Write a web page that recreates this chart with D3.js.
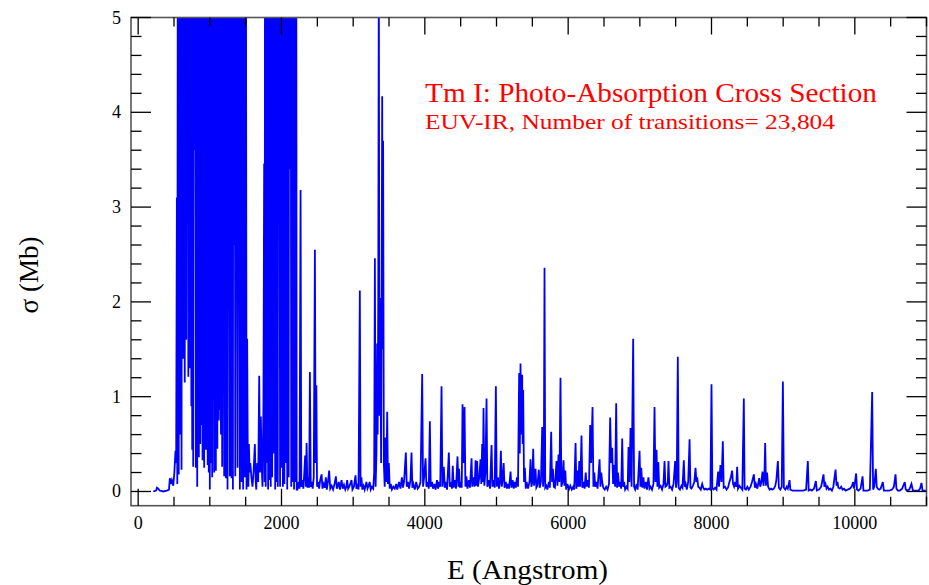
<!DOCTYPE html>
<html>
<head>
<meta charset="utf-8">
<script src="https://cdn.jsdelivr.net/npm/d3@7/dist/d3.min.js"></script>
<style>
  body { margin: 0; background: #fff; }
  text { font-family: "Liberation Serif", "Times New Roman", serif; }
</style>
</head>
<body>
<svg id="chart" width="929" height="585"></svg>
<script>
// spectrum vertices: [E (Angstrom), sigma (Mb)]
var euvOnset = [
  [210,0.0],[250,0.01],[262,0.04],[280,0.03],[300,0.01],[350,0.0],[400,0.01],[430,0.02],
  [442,0.14],[455,0.08],[470,0.12],[490,0.06],[505,0.2],[521,0.43],[530,0.3],[540,3.1]
];
var euvBandA = [
  [546,0.08],[556,9],[566,0.18],[575,9],[585,0.6],[595,9],[605,0.23],[615,9],[625,1.4],
  [638,9],[650,1.15],[660,9],[670,1.6],[676,5.8],[684,3.2],[692,5.8],[700,1.21],[710,9],
  [720,1.3],[730,9],[742,0.9],[748,9],[754,0.44],[761,9],[768,0.26],[774,6],[785,3.6],
  [796,6],[805,0.25],[814,9],[824,0.05],[835,9],[847,0.36],[857,9],[866,0.5],[876,9],
  [886,0.7],[892,9],[898,0.33],[910,9],[921,0.25],[933,9],[945,0.44],[950,6.2],[958,4.1],
  [966,6.2],[970,0.28],[978,9],[985,0.2],[993,9],[1000,0.02],[1010,9],[1020,0.3],[1027,9],
  [1033,0.15],[1047,9],[1061,0.2],[1072,9],[1084,0.22],[1094,9],[1105,0.45],[1115,9],
  [1125,0.75],[1133,9],[1140,0.86],[1148,9],[1155,0.6],[1163,9],[1172,0.26],[1186,9],
  [1200,0.16],[1212,9],[1224,0.14],[1236,9],[1247,0.02],[1263,9],[1279,0.16],[1291,9],
  [1303,0.14],[1312,9],[1322,0.02],[1327,6],[1337,2.6],[1347,6],[1355,0.16],[1371,9],
  [1387,0.25],[1400,9],[1419,0.02],[1432,9],[1445,0.1],[1455,9],[1465,0.02],[1477,9],
  [1490,0.15],[1500,9],[1512,0.02]
];
var euvGap = [
  [1521,1.61],[1530,0.3],[1538,0.05],[1545,0.5],[1555,0.2],[1565,0.3],[1580,0.15],[1595,0.05],
  [1610,0.2],[1628,0.5],[1640,0.1],[1648,0.02],[1662,0.3],[1675,0.1],[1689,1.22],[1700,0.2],
  [1712,0.79],[1722,0.3],[1735,0.05],[1748,0.93],[1758,3.46]
];
var euvBandB = [
  [1765,0.1],[1772,9],[1780,0.05],[1788,9],[1797,0.3],[1805,9],[1813,0.02],[1822,9],
  [1830,0.12],[1840,9],[1850,0.05],[1860,9],[1870,0.15],[1878,9],[1886,0.4],[1891,6],
  [1898,3.7],[1905,6],[1912,0.02],[1922,9],[1932,0.1],[1940,9],[1948,0.05],[1953,6],
  [1962,4.2],[1971,6],[1980,0.05],[1990,9],[2000,0.25],[2010,9],[2020,0.05],[2030,9],
  [2040,0.08],[2050,9],[2057,0.3],[2061,6],[2067,4.6],[2073,6],[2080,0.02],[2092,9],
  [2100,0.15],[2105,6],[2117,3.4],[2129,6],[2136,0.05],[2145,9],[2155,0.1],[2165,9],
  [2175,0.02],[2185,9],[2195,0.1],[2203,9],[2212,0.02]
];
var uvLines = [
  [2222,0.02],[2240,0.1],[2252,0.03],[2266,3.18],[2276,0.05],[2290,0.12],[2305,0.03],[2318,0.2],
  [2330,0.38],[2340,0.05],[2350,0.51],[2362,0.04],[2376,0.15],[2386,0.04],[2396,1.26],[2408,0.05],
  [2420,0.1],[2435,0.03],[2450,0.15],[2466,2.55],[2476,0.3],[2486,1.12],[2496,0.05],[2510,0.1],
  [2525,0.03],[2540,0.12],[2559,0.18],[2572,0.03],[2590,0.08],[2605,0.04],[2619,0.15],[2632,0.02],
  [2648,0.1],[2665,0.22],[2680,0.03],[2700,0.06],[2720,0.02],[2740,0.08],[2759,0.16],[2772,0.03],
  [2786,0.06],[2800,0.1],[2815,0.02],[2838,0.12],[2855,0.03],[2872,0.07],[2890,0.02],[2905,0.05],
  [2916,0.12],[2930,0.03],[2950,0.06],[2977,0.12],[2990,0.02],[3010,0.05],[3033,0.17],[3045,0.03],
  [3060,0.06],[3075,0.02],[3093,2.12],[3103,0.05],[3115,0.15],[3128,0.02],[3145,0.06],[3160,0.02],
  [3185,0.1],[3200,0.03],[3215,0.06],[3230,0.1],[3245,0.02],[3262,0.05],[3280,0.03],[3293,0.2],
  [3303,2.46],[3313,0.05],[3325,0.4],[3335,1.56],[3342,0.6],[3350,2.04],[3358,5.6],[3366,0.8],
  [3377,2.04],[3390,0.3],[3405,4.17],[3412,1.5],[3418,3.7],[3428,0.3],[3440,0.05],[3452,0.57],
  [3462,0.1],[3475,0.84],[3485,0.08],[3498,0.3],[3510,0.03],[3525,0.08],[3540,0.02],[3560,0.05],
  [3580,0.03],[3600,0.08],[3615,0.02],[3640,0.1],[3660,0.03],[3680,0.15],[3695,0.04],[3710,0.1],
  [3735,0.41],[3748,0.05],[3765,0.1],[3780,0.03],[3800,0.12],[3814,0.41],[3826,0.04],[3840,0.08],
  [3860,0.02],[3880,0.1],[3900,0.03],[3920,0.05],[3940,0.1],[3963,1.24],[3975,0.05],[3990,0.15],
  [4010,0.35],[4022,0.05],[4040,0.1],[4055,0.03],[4070,0.74],[4082,0.05],[4100,0.1],[4115,0.03],
  [4135,0.08],[4150,0.02],[4170,0.12],[4185,0.03],[4200,0.1],[4215,0.05],[4233,1.11],[4245,0.05],
  [4265,0.26],[4278,0.04],[4295,0.1],[4310,0.02],[4335,0.41],[4348,0.05],[4365,0.1],[4378,0.03],
  [4390,0.27],[4402,0.04],[4420,0.12],[4435,0.03],[4456,0.37],[4468,0.05],[4478,0.24],[4490,0.04],
  [4505,0.1],[4515,0.04],[4526,0.92],[4540,0.3],[4554,0.89],[4566,0.05],[4580,0.16],[4595,0.03],
  [4615,0.12],[4630,0.04],[4652,0.35],[4662,0.05],[4680,0.15],[4695,0.05],[4708,0.33],[4718,0.06],
  [4730,0.32],[4742,0.05],[4760,0.15],[4777,0.34],[4788,0.08],[4800,0.5],[4810,0.1],[4819,0.88],
  [4830,0.06],[4845,0.2],[4861,0.98],[4872,0.05],[4890,0.12],[4910,0.03],[4931,0.49],[4943,0.05],
  [4960,0.12],[4975,0.04],[4991,1.11],[5003,0.05],[5020,0.15],[5035,0.03],[5048,0.1],[5061,0.43],
  [5073,0.05],[5085,0.12],[5100,0.3],[5112,0.04],[5130,0.1],[5145,0.03],[5160,0.08],[5175,0.03],
  [5196,0.21],[5208,0.04],[5225,0.12],[5240,0.03],[5255,0.1],[5270,0.04],[5285,0.15],[5300,0.05],
  [5316,1.25],[5325,0.4],[5335,1.35],[5346,0.6],[5358,1.23],[5365,0.5],[5372,1.07],[5384,0.1],
  [5396,0.25],[5408,0.03]
];
var visLines = [
  [5420,0.1],[5440,0.03],[5460,0.1],[5475,0.34],[5487,0.05],[5500,0.1],[5512,0.45],[5524,0.06],
  [5545,0.24],[5556,0.04],[5570,0.06],[5591,0.23],[5602,0.04],[5620,0.1],[5638,0.68],[5650,0.05],
  [5660,0.2],[5670,2.36],[5680,0.04],[5695,0.06],[5710,0.02],[5730,0.1],[5745,0.04],[5763,0.63],
  [5775,0.1],[5787,0.24],[5800,0.05],[5815,0.04],[5837,0.32],[5850,0.06],[5865,0.39],[5878,0.1],
  [5893,1.2],[5905,0.05],[5920,0.1],[5935,0.33],[5947,0.06],[5960,0.22],[5972,0.02],[5990,0.08],
  [6010,0.02],[6030,0.06],[6050,0.02],[6070,0.05],[6085,0.02],[6103,0.51],[6115,0.03],[6130,0.22],
  [6142,0.05],[6155,0.32],[6168,0.05],[6186,0.59],[6198,0.04],[6215,0.1],[6230,0.03],[6245,0.2],
  [6258,0.05],[6275,0.12],[6290,0.04],[6307,0.7],[6320,0.3],[6340,0.89],[6352,0.05],[6365,0.2],
  [6378,0.05],[6395,0.1],[6410,0.03],[6438,0.34],[6450,0.05],[6462,0.2],[6475,0.1],[6490,0.04],
  [6510,0.02],[6530,0.05],[6550,0.02],[6570,0.08],[6586,0.78],[6600,0.3],[6614,0.46],[6627,0.08],
  [6640,0.28],[6655,0.05],[6670,0.93],[6682,0.04],[6695,0.2],[6710,0.05],[6725,0.1],[6740,0.03],
  [6754,0.56],[6766,0.05],[6780,0.1],[6795,0.02],[6815,0.05],[6830,0.03],[6842,0.47],[6855,0.1],
  [6870,0.67],[6885,0.05],[6907,1.61],[6920,0.05],[6935,0.02],[6955,0.08],[6970,0.02],[6996,0.43],
  [7008,0.05],[7020,0.25],[7035,0.04],[7050,0.15],[7065,0.03],[7085,0.1],[7100,0.02],[7120,0.15],
  [7135,0.03],[7150,0.05],[7170,0.02],[7190,0.08],[7205,0.89],[7218,0.1],[7233,0.44],[7245,0.05],
  [7258,0.31],[7270,0.04],[7290,0.06],[7310,0.02],[7330,0.08],[7345,0.32],[7357,0.05],[7375,0.06],
  [7390,0.1],[7400,0.32],[7412,0.04],[7430,0.05],[7450,0.02],[7470,0.08],[7493,0.32],[7505,0.04],
  [7515,0.1],[7530,1.42],[7542,0.04],[7560,0.02],[7580,0.06],[7595,0.04],[7614,0.33],[7626,0.05],
  [7640,0.08],[7655,0.02],[7675,0.1],[7694,0.55],[7706,0.04],[7720,0.03],[7740,0.06],[7760,0.1],
  [7777,0.25],[7790,0.1],[7800,0.15],[7815,0.05],[7830,0.04],[7850,0.02],[7870,0.08],[7885,0.04],
  [7900,0.02],[7920,0.03],[7940,0.02],[7965,0.03],[7985,0.02]
];
var irLines = [
  [8000,1.13],[8012,0.03],[8030,0.02],[8050,0.04],[8070,0.02],[8093,0.21],[8105,0.05],[8125,0.28],
  [8140,0.1],[8158,0.53],[8170,0.04],[8190,0.05],[8210,0.02],[8230,0.04],[8250,0.1],[8270,0.15],
  [8288,0.22],[8300,0.08],[8315,0.05],[8330,0.1],[8345,0.05],[8358,0.26],[8370,0.03],[8390,0.06],
  [8410,0.04],[8430,0.02],[8451,0.98],[8462,0.03],[8480,0.02],[8500,0.05],[8520,0.02],[8545,0.05],
  [8565,0.1],[8591,0.18],[8605,0.04],[8620,0.08],[8640,0.03],[8665,0.14],[8680,0.05],[8695,0.1],
  [8712,0.21],[8725,0.06],[8738,0.15],[8749,0.51],[8760,0.06],[8775,0.2],[8790,0.05],[8810,0.02],
  [8830,0.03],[8850,0.02],[8870,0.03],[8890,0.06],[8905,0.12],[8926,0.32],[8940,0.04],[8960,0.02],
  [8980,0.05],[8996,1.16],[9010,0.04],[9030,0.02],[9050,0.05],[9065,0.03],[9089,0.12],[9100,0.02],
  [9130,0.01],[9160,0.01],[9200,0.01],[9240,0.01],[9280,0.01],[9320,0.02],[9344,0.32],[9356,0.01],
  [9380,0.02],[9400,0.01],[9430,0.03],[9456,0.11],[9470,0.01],[9500,0.02],[9530,0.05],[9563,0.18],
  [9575,0.05],[9590,0.08],[9605,0.03],[9620,0.05],[9640,0.02],[9660,0.03],[9680,0.01],[9700,0.05],
  [9731,0.23],[9745,0.06],[9758,0.1],[9770,0.04],[9790,0.03],[9810,0.05],[9830,0.02],[9850,0.03],
  [9870,0.01],[9900,0.02],[9930,0.03],[9955,0.05],[9977,0.1],[9990,0.03],[10018,0.19],[10030,0.02],
  [10050,0.01],[10080,0.03],[10108,0.16],[10120,0.01],[10150,0.01],[10180,0.01],[10210,0.02],
  [10242,1.05],[10255,0.02],[10270,0.05],[10293,0.24],[10305,0.05],[10320,0.03],[10340,0.02],
  [10360,0.03],[10391,0.1],[10405,0.01],[10440,0.01],[10480,0.01],[10520,0.02],[10545,0.05],
  [10568,0.18],[10580,0.03],[10600,0.01],[10630,0.01],[10660,0.03],[10697,0.1],[10710,0.02],
  [10730,0.01],[10760,0.02],[10790,0.08],[10810,0.01],[10850,0.01],[10890,0.01],[10910,0.03],
  [10930,0.09],[10945,0.01],[10980,0.01],[11000,0.01]
];

var xMajorTicks = [0, 2000, 4000, 6000, 8000, 10000];
var xMinorTicks = d3.range(0, 11001, 500);
var yMajorTicks = [0, 1, 2, 3, 4, 5];
var yMinorTicks = d3.range(0, 5.01, 0.2);

var title = "Tm I: Photo-Absorption Cross Section";
var subtitle = "EUV-IR, Number of transitions= 23,804";
var xLabel = "E (Angstrom)";
var yLabel = "\u03c3 (Mb)";

function drawChart(selector){
  var svg = d3.select(selector);
  var left = 131, right = 926.5, top = 17.5, bottom = 505.7;

  var x = d3.scaleLinear().domain([-100, 11000]).range([left, right]);
  var y = d3.scaleLinear().domain([-0.15, 5]).range([bottom, top]);

  svg.append("defs").append("clipPath").attr("id", "plot-clip")
    .append("rect")
      .attr("x", left).attr("y", top)
      .attr("width", right - left).attr("height", bottom - top);

  var spectrum = [].concat(euvOnset, euvBandA, euvGap, euvBandB, uvLines, visLines, irLines);

  var line = d3.line()
    .x(function(d){ return x(d[0]); })
    .y(function(d){ return y(d[1]); });

  svg.append("path")
    .datum(spectrum)
    .attr("clip-path", "url(#plot-clip)")
    .attr("d", line)
    .style("fill", "none")
    .style("stroke", "#0000ff")
    .style("stroke-width", 1.8);

  // frame
  svg.append("rect")
    .attr("x", left).attr("y", top)
    .attr("width", right - left).attr("height", bottom - top)
    .style("fill", "none")
    .style("stroke", "#555")
    .style("stroke-width", 1.6);

  // inward ticks on all four sides
  var g = svg.append("g").style("stroke", "#000").style("stroke-width", 1.3);
  function xTicks(vals, len){
    vals.forEach(function(v){
      g.append("line").attr("x1", x(v)).attr("x2", x(v)).attr("y1", bottom).attr("y2", bottom - len);
      g.append("line").attr("x1", x(v)).attr("x2", x(v)).attr("y1", top).attr("y2", top + len);
    });
  }
  function yTicks(vals, len){
    vals.forEach(function(v){
      g.append("line").attr("y1", y(v)).attr("y2", y(v)).attr("x1", left).attr("x2", left + len);
      g.append("line").attr("y1", y(v)).attr("y2", y(v)).attr("x1", right).attr("x2", right - len);
    });
  }
  xTicks(xMinorTicks.filter(function(v){ return xMajorTicks.indexOf(v) < 0; }), 9);
  xTicks(xMajorTicks, 17);
  yTicks(yMinorTicks.filter(function(v){ return Math.abs(v - Math.round(v)) > 1e-6; }), 10.5);
  yTicks(yMajorTicks, 20);

  svg.selectAll("text.xtick").data(xMajorTicks).enter().append("text")
    .attr("class", "xtick")
    .attr("x", function(d){ return x(d); })
    .attr("y", 529)
    .attr("text-anchor", "middle")
    .style("font-size", "18px")
    .text(function(d){ return d; });

  svg.selectAll("text.ytick").data(yMajorTicks).enter().append("text")
    .attr("class", "ytick")
    .attr("x", 121)
    .attr("y", function(d){ return y(d) + 6; })
    .attr("text-anchor", "end")
    .style("font-size", "18px")
    .text(function(d){ return d; });

  svg.append("text")
    .attr("x", 447).attr("y", 579)
    .attr("textLength", 161)
    .attr("lengthAdjust", "spacingAndGlyphs")
    .style("font-size", "28px")
    .text(xLabel);

  svg.append("text")
    .attr("transform", "translate(38,275) rotate(-90)")
    .attr("text-anchor", "middle")
    .style("font-size", "27px")
    .text(yLabel);

  svg.append("text")
    .attr("x", 425).attr("y", 102)
    .attr("textLength", 452)
    .attr("lengthAdjust", "spacingAndGlyphs")
    .style("font-size", "27px")
    .style("fill", "#ff0000")
    .text(title);

  svg.append("text")
    .attr("x", 425).attr("y", 129)
    .attr("textLength", 410)
    .attr("lengthAdjust", "spacingAndGlyphs")
    .style("font-size", "21px")
    .style("fill", "#ff0000")
    .text(subtitle);
}

drawChart("#chart");
</script>
</body>
</html>
